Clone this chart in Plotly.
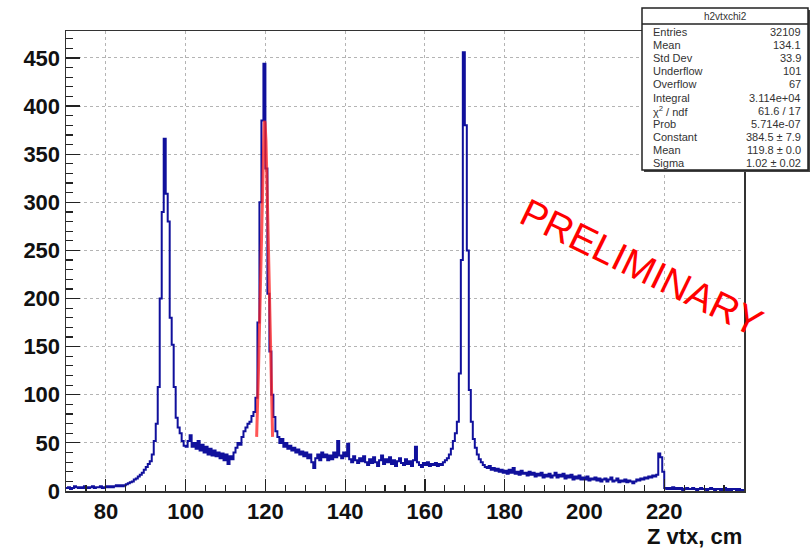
import numpy as np
import plotly.graph_objects as go

# ---------------- data ----------------
bin_width = 0.5
x_start = 70.0
counts_070_080 = [3, 4, 2, 3, 5, 4, 3, 4, 3, 5, 4, 3, 4, 5, 3, 4, 4, 5, 3, 4]
counts_080_090 = [5, 4, 5, 4, 5, 6, 5, 6, 5, 6, 7, 8, 9, 10, 12, 13, 15, 17, 19, 22]
counts_090_100 = [25, 28, 31, 38, 52, 70, 108, 200, 290, 366, 309, 280, 180, 152, 108, 76, 66, 60, 52, 47]
counts_100_110 = [46, 52, 58, 46, 50, 44, 52, 42, 48, 40, 46, 38, 44, 37, 42, 36, 40, 34, 39, 32]
counts_110_120 = [38, 28, 36, 33, 40, 45, 50, 48, 56, 62, 66, 70, 72, 78, 82, 97, 175, 300, 385, 444]
counts_120_130 = [335, 205, 145, 100, 77, 62, 56, 50, 54, 46, 50, 44, 47, 42, 45, 40, 43, 38, 41, 36]
counts_130_140 = [40, 34, 38, 30, 24, 34, 38, 32, 40, 35, 38, 32, 37, 33, 40, 35, 52, 37, 34, 40]
counts_140_150 = [36, 49, 33, 30, 36, 32, 29, 34, 31, 36, 30, 27, 33, 29, 35, 30, 26, 32, 37, 28]
counts_150_160 = [33, 30, 35, 28, 32, 26, 31, 34, 29, 27, 33, 28, 31, 26, 32, 46, 30, 27, 25, 29]
counts_160_170 = [27, 30, 26, 28, 27, 29, 26, 28, 27, 30, 32, 34, 38, 44, 52, 60, 72, 122, 240, 456]
counts_170_180 = [380, 250, 105, 72, 54, 45, 38, 33, 30, 27, 25, 24, 26, 22, 24, 21, 23, 20, 22, 19]
counts_180_190 = [21, 18, 22, 19, 24, 18, 20, 17, 21, 18, 19, 16, 20, 17, 19, 15, 18, 16, 19, 14]
counts_190_200 = [17, 15, 18, 14, 16, 19, 14, 17, 15, 18, 13, 16, 14, 17, 12, 15, 13, 16, 12, 14]
counts_200_210 = [12, 15, 11, 13, 12, 14, 11, 13, 10, 12, 13, 10, 12, 14, 10, 11, 13, 9, 11, 10]
counts_210_220 = [12, 9, 11, 10, 8, 10, 12, 11, 13, 12, 14, 13, 15, 14, 16, 15, 17, 39, 35, 20]
counts_220_230 = [3, 2, 3, 2, 4, 2, 3, 2, 3, 1, 2, 3, 2, 2, 3, 2, 1, 2, 3, 2]
counts_230_240 = [2, 1, 2, 3, 2, 1, 2, 2, 1, 2, 3, 1, 2, 1, 2, 2, 1, 2, 1, 1]

# Gaussian fit (parameters from the stats box)
fit_constant = 384.5
fit_mean = 119.8
fit_sigma = 1.02
fit_range = (117.8, 121.8)

x_tick_labels = ["80", "100", "120", "140", "160", "180", "200", "220"]
y_tick_labels = ["0", "50", "100", "150", "200", "250", "300", "350", "400", "450"]

stats_title = "h2vtxchi2"
stats_names = ["Entries", "Mean", "Std Dev", "Underflow", "Overflow", "Integral",
               "\u03c7<sup>2</sup> / ndf", "Prob", "Constant", "Mean", "Sigma"]
stats_values = ["32109", "134.1", "33.9", "101", "67", "3.114e+04",
                "61.6 / 17", "5.714e-07", "384.5 \u00b1 7.9", "119.8 \u00b1 0.0", "1.02 \u00b1 0.02"]

# ---------------- build ----------------
counts = np.array(counts_070_080 + counts_080_090 + counts_090_100 + counts_100_110 +
                  counts_110_120 + counts_120_130 + counts_130_140 + counts_140_150 +
                  counts_150_160 + counts_160_170 + counts_170_180 + counts_180_190 +
                  counts_190_200 + counts_200_210 + counts_210_220 + counts_220_230 +
                  counts_230_240, dtype=float)
edges = x_start + bin_width * np.arange(len(counts) + 1)
step_x = edges
step_y = np.append(counts, counts[-1])

fx = np.linspace(fit_range[0], fit_range[1], 200)
fy = fit_constant * np.exp(-0.5 * ((fx - fit_mean) / fit_sigma) ** 2)

fig = go.Figure()
fig.add_trace(go.Scatter(x=step_x, y=step_y, mode="lines", line_shape="hv",
                         line=dict(color="#10109c", width=2), hoverinfo="skip",
                         showlegend=False))
fig.add_trace(go.Scatter(x=fx, y=fy, mode="lines",
                         line=dict(color="rgba(255,30,30,0.75)", width=3),
                         showlegend=False, hoverinfo="skip"))

# plot area in pixels
L, R, T, B = 66, 744, 31, 491
W, H = R - L, B - T


def px2x(px):
    return (px - L) / W


def py2y(py):
    return (B - py) / H


FONT = "Liberation Sans, Arial, Helvetica, sans-serif"

fig.update_layout(
    width=811, height=551,
    margin=dict(l=L, r=811 - R, t=T, b=551 - B, autoexpand=False),
    paper_bgcolor="white", plot_bgcolor="white",
    font=dict(family=FONT, color="black"),
    hovermode=False,
    xaxis=dict(range=[70, 240], tickmode="array",
               tickvals=[float(v) for v in x_tick_labels], ticktext=x_tick_labels,
               ticks="inside", ticklen=12, tickwidth=1.2, tickcolor="#222",
               minor=dict(dtick=5, tick0=0, ticks="inside", ticklen=6, tickcolor="#222",
                          showgrid=False),
               showgrid=True, gridcolor="#b4b4b4", griddash="3px,3px", gridwidth=1,
               showline=True, linecolor="#333", linewidth=1.5, mirror=True,
               zeroline=False,
               tickfont=dict(size=22, family=FONT, weight="bold", color="#111")),
    yaxis=dict(range=[0, 478], tickmode="array",
               tickvals=[float(v) for v in y_tick_labels], ticktext=y_tick_labels,
               ticks="inside", ticklen=14, tickwidth=1.2, tickcolor="#222",
               minor=dict(dtick=10, tick0=0, ticks="inside", ticklen=7, tickcolor="#222",
                          showgrid=False),
               showgrid=True, gridcolor="#b4b4b4", griddash="3px,3px", gridwidth=1,
               showline=True, linecolor="#333", linewidth=1.5, mirror=True,
               zeroline=False,
               tickfont=dict(size=22, family=FONT, weight="bold", color="#111")),
)

annotations = []
shapes = []

# axis title
annotations.append(dict(xref="paper", yref="paper", x=px2x(744), y=py2y(536),
                        xanchor="right", yanchor="middle", showarrow=False,
                        text="<b>Z vtx, cm</b>",
                        font=dict(size=22, family=FONT, color="#111")))

# PRELIMINARY watermark
annotations.append(dict(xref="paper", yref="paper", x=px2x(642), y=py2y(267),
                        xanchor="center", yanchor="middle", showarrow=False,
                        text="PRELIMINARY", textangle=26,
                        font=dict(size=39, family=FONT, color="#ff0000")))

# stats box
bx0, bx1, by0, by1 = 642, 808, 8, 170
shapes.append(dict(type="rect", xref="paper", yref="paper",
                   x0=px2x(bx0 + 2), x1=px2x(bx1 + 2), y0=py2y(by1 + 2), y1=py2y(by0 + 2),
                   line=dict(width=0), fillcolor="#444"))
shapes.append(dict(type="rect", xref="paper", yref="paper",
                   x0=px2x(bx0), x1=px2x(bx1), y0=py2y(by1), y1=py2y(by0),
                   line=dict(color="#222", width=1.5), fillcolor="white"))
shapes.append(dict(type="line", xref="paper", yref="paper",
                   x0=px2x(bx0), x1=px2x(bx1), y0=py2y(24), y1=py2y(24),
                   line=dict(color="#222", width=1.5)))
annotations.append(dict(xref="paper", yref="paper", x=px2x((bx0 + bx1) / 2), y=py2y(16),
                        xanchor="center", yanchor="middle", showarrow=False,
                        text=stats_title, font=dict(size=10, family=FONT, color="#333")))
row0, drow = 32, 13.1
for i, (nm, val) in enumerate(zip(stats_names, stats_values)):
    yy = py2y(row0 + i * drow)
    annotations.append(dict(xref="paper", yref="paper", x=px2x(651), y=yy,
                            xanchor="left", yanchor="middle", showarrow=False,
                            text=nm, font=dict(size=11, family=FONT, color="#333")))
    annotations.append(dict(xref="paper", yref="paper", x=px2x(803), y=yy,
                            xanchor="right", yanchor="middle", showarrow=False,
                            text=val, font=dict(size=11, family=FONT, color="#333")))

fig.update_layout(annotations=annotations, shapes=shapes)
fig.write_html("out.html", config={"displayModeBar": False, "staticPlot": True},
               post_script="document.body.style.margin='0px';")
